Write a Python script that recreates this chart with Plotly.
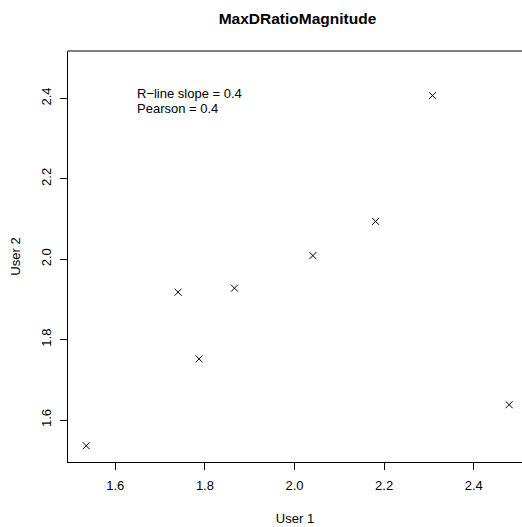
import plotly.graph_objects as go

# values
user1 = [1.535, 1.740, 1.787, 1.866, 2.041, 2.181, 2.308, 2.479]
user2 = [1.536, 1.918, 1.752, 1.928, 2.009, 2.094, 2.407, 1.638]
tick_vals = [1.6, 1.8, 2.0, 2.2, 2.4]
chart_title = "MaxDRatioMagnitude"
stats_lines = ["R\u2212line slope = 0.4", "Pearson = 0.4"]

FONT = "Liberation Sans, Arial, Helvetica, sans-serif"

fig = go.Figure()
fig.add_trace(go.Scatter(
    x=user1, y=user2,
    mode="markers",
    marker=dict(symbol="x-thin-open", size=7, color="black",
                line=dict(color="black", width=1)),
    cliponaxis=False,
    showlegend=False,
))

# stats text in the upper left of the panel
for txt, yv in zip(stats_lines, [2.412, 2.375]):
    fig.add_annotation(x=1.644, y=yv, xref="x", yref="y", text=txt,
                       showarrow=False, xanchor="left", yanchor="middle",
                       font=dict(family=FONT, size=13, color="black"))

# top edge of the box (right edge falls outside the picture)
fig.add_shape(type="line", xref="paper", yref="paper", x0=0, x1=1, y0=1, y1=1,
              line=dict(color="black", width=1))

axis_common = dict(
    tickvals=tick_vals, tickformat=".1f",
    ticks="outside", ticklen=7, tickwidth=1, tickcolor="black",
    showline=True, linecolor="black", linewidth=1,
    showgrid=False, zeroline=False, automargin=False,
    tickfont=dict(family=FONT, size=13, color="black"),
)

fig.update_layout(
    width=522, height=527,
    margin=dict(l=68, r=0, t=51, b=65),
    paper_bgcolor="white", plot_bgcolor="white",
    title=dict(text="<b>" + chart_title + "</b>", x=297.5 / 522, xanchor="center",
               y=1 - 19 / 527, yanchor="middle",
               font=dict(family=FONT, size=15.5, color="black")),
    xaxis=dict(range=[1.4944, 2.5078], ticklabelstandoff=4,
               title=dict(text="User 1", standoff=22,
                          font=dict(family=FONT, size=13, color="black")),
               **axis_common),
    yaxis=dict(range=[1.4955, 2.518], tickangle=-90, ticklabelstandoff=4,
               title=dict(text="User 2", standoff=15,
                          font=dict(family=FONT, size=13, color="black")),
               **axis_common),
)

# drop the browser's default body margin so the figure sits at the window corner
fig.write_html("out.html", config={"displayModeBar": False},
               post_script="document.body.style.margin='0';")
